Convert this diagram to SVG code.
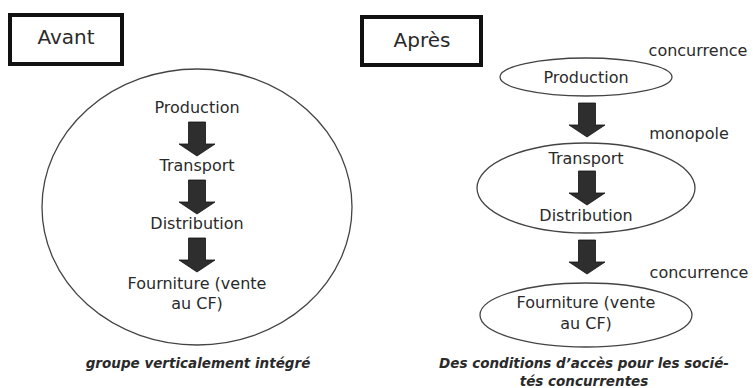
<svg xmlns="http://www.w3.org/2000/svg" width="753" height="388" viewBox="0 0 753 388">
<defs>
<style>
.t{font-family:"DejaVu Sans","Liberation Sans",sans-serif;font-size:16px;fill:#2a2a2a;text-anchor:middle}
.lbl{font-family:"DejaVu Sans","Liberation Sans",sans-serif;font-size:20px;fill:#2a2a2a;text-anchor:middle}
.cap{font-family:"DejaVu Sans","Liberation Sans",sans-serif;font-size:13.5px;font-style:italic;font-weight:bold;fill:#2a2a2a;text-anchor:middle}
.box{fill:#fff;stroke:#111;stroke-width:4}
.ell{fill:none;stroke:#444;stroke-width:1.3}
.arr{fill:#2e2e2e;stroke:#111;stroke-width:0.8}
</style>
<path id="ar" d="M-8.5,0 H8.5 V22 H18 L0,34 L-18,22 H-8.5 Z"/>
</defs>
<g id="avant"><rect class="box" x="10" y="15" width="112" height="49"/><text class="lbl" x="66" y="44">Avant</text></g>
<g id="groupe"><ellipse class="ell" cx="197" cy="207" rx="155" ry="138"/></g>
<g id="l-production"><text class="t" x="197" y="113">Production</text></g>
<g id="l-transport"><text class="t" x="197" y="171">Transport</text></g>
<g id="l-distribution"><text class="t" x="197" y="229">Distribution</text></g>
<g id="l-fourniture"><text class="t" x="197" y="289">Fourniture (vente</text><text class="t" x="197" y="309">au CF)</text></g>
<g id="cap-left"><text class="cap" x="198" y="368">groupe verticalement intégré</text></g>

<g id="apres"><rect class="box" x="362" y="17" width="119" height="48"/><text class="lbl" x="422" y="47">Après</text></g>
<g id="r-production"><ellipse class="ell" cx="586" cy="77" rx="86" ry="19"/><text class="t" x="586" y="83">Production</text></g>
<g id="r-monopole"><ellipse class="ell" cx="586" cy="188" rx="109" ry="45"/><text class="t" x="586" y="164">Transport</text><text class="t" x="586" y="221">Distribution</text></g>
<g id="r-fourniture"><ellipse class="ell" cx="586" cy="315" rx="106" ry="32"/><text class="t" x="586" y="308">Fourniture (vente</text><text class="t" x="586" y="329">au CF)</text></g>
<g id="notes"><text class="t" x="698" y="56">concurrence</text><text class="t" x="689" y="139">monopole</text><text class="t" x="699" y="278">concurrence</text></g>
<g id="cap-right"><text class="cap" x="584" y="368">Des conditions d’accès pour les socié-</text><text class="cap" x="584" y="386">tés concurrentes</text></g>

<g id="connectors">
<use href="#ar" class="arr" x="197" y="122"/>
<use href="#ar" class="arr" x="197" y="180"/>
<use href="#ar" class="arr" x="197" y="238"/>
<use href="#ar" class="arr" x="587" y="103"/>
<use href="#ar" class="arr" x="587" y="171"/>
<use href="#ar" class="arr" x="587" y="240"/>
</g>
</svg>
